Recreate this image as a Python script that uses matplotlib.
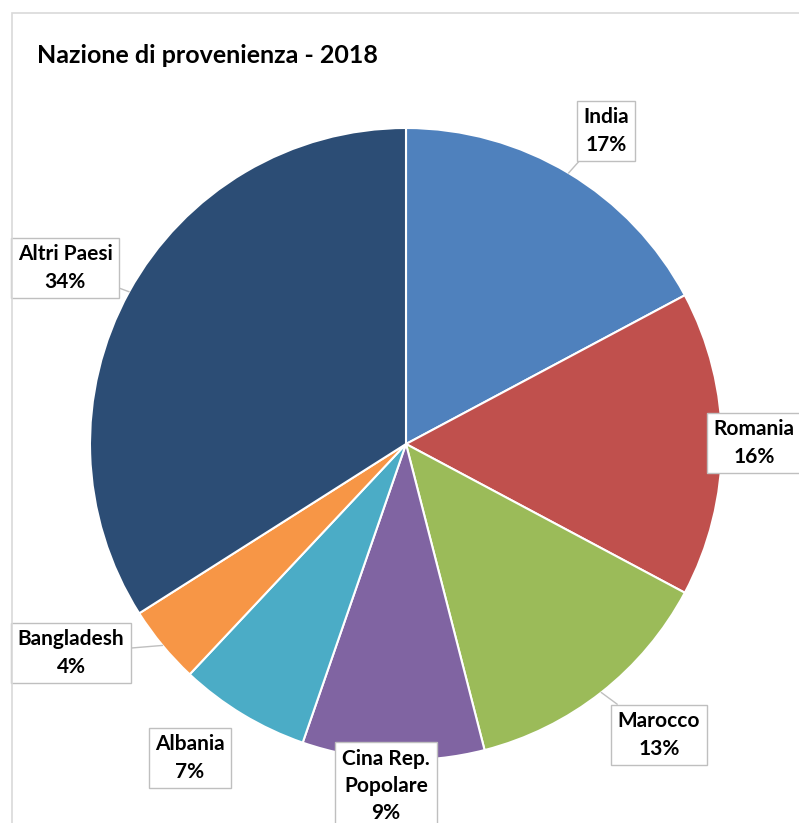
import numpy as np
import matplotlib
matplotlib.use("Agg")
import matplotlib.pyplot as plt

# Nazione di provenienza - 2018 (quote stimate dal grafico)
paesi = ['India', 'Romania', 'Marocco', 'Cina Rep.\nPopolare', 'Albania', 'Bangladesh', 'Altri Paesi']
quote = [17.2, 15.6, 13.2, 9.3, 6.7, 4.0, 34.0]
colori = ['#4F81BD', '#C0504D', '#9BBB59', '#8064A2', '#4BACC6', '#F79646', '#2C4D75']

W, H = 799, 823
CX, CY, R = 406, 444, 316

plt.rcParams['font.family'] = ['Lato', 'DejaVu Sans']

fig = plt.figure(figsize=(W / 100, H / 100), dpi=100)
fig.patch.set_facecolor('white')

# cornice grigia dell'area grafico
frame = plt.Rectangle((12 / W, -0.1), 1.2, (H - 13) / H + 0.1, transform=fig.transFigure,
                      fill=False, edgecolor='#D9D9D9', linewidth=1.2)
fig.patches.append(frame)

ax = fig.add_axes([(CX - R) / W, (H - CY - R) / H, 2 * R / W, 2 * R / H])
wedges, _ = ax.pie(quote, colors=colori, startangle=90, counterclock=False,
                   wedgeprops=dict(edgecolor='white', linewidth=1.5))
ax.set_xlim(-1, 1)
ax.set_ylim(-1, 1)
ax.set_aspect('equal')
ax.axis('off')

fig.text(37 / W, 1 - 63 / H, 'Nazione di provenienza - 2018', fontsize=18,
         fontweight='bold', ha='left', va='baseline')

# posizione centro etichetta (pixel) e se serve linea guida
etichette = {
    'India': ((606, 131), True),
    'Romania': ((754, 443), False),
    'Marocco': ((659, 735), True),
    'Cina Rep.\nPopolare': ((386, 786), False),
    'Albania': ((190, 758), False),
    'Bangladesh': ((71, 653), True),
    'Altri Paesi': ((65, 268), True),
}

tot = sum(quote)
for w, nome, q in zip(wedges, paesi, quote):
    (px, py), guida = etichette[nome]
    tx, ty = (px - CX) / R, (CY - py) / R
    mid = np.deg2rad((w.theta1 + w.theta2) / 2)
    ex, ey = np.cos(mid), np.sin(mid)
    testo = f'{nome}\n{round(q / tot * 100):.0f}%'
    ax.annotate(testo, xy=(ex, ey), xytext=(tx, ty), ha='center', va='center',
                fontsize=15, fontweight='bold', linespacing=1.45, annotation_clip=False,
                bbox=dict(boxstyle='square,pad=0.32', facecolor='white', edgecolor='#BFBFBF', linewidth=1),
                arrowprops=dict(arrowstyle='-', color='#BFBFBF', lw=1, shrinkA=0, shrinkB=0) if guida else None)

fig.savefig('out.png', dpi=100)
